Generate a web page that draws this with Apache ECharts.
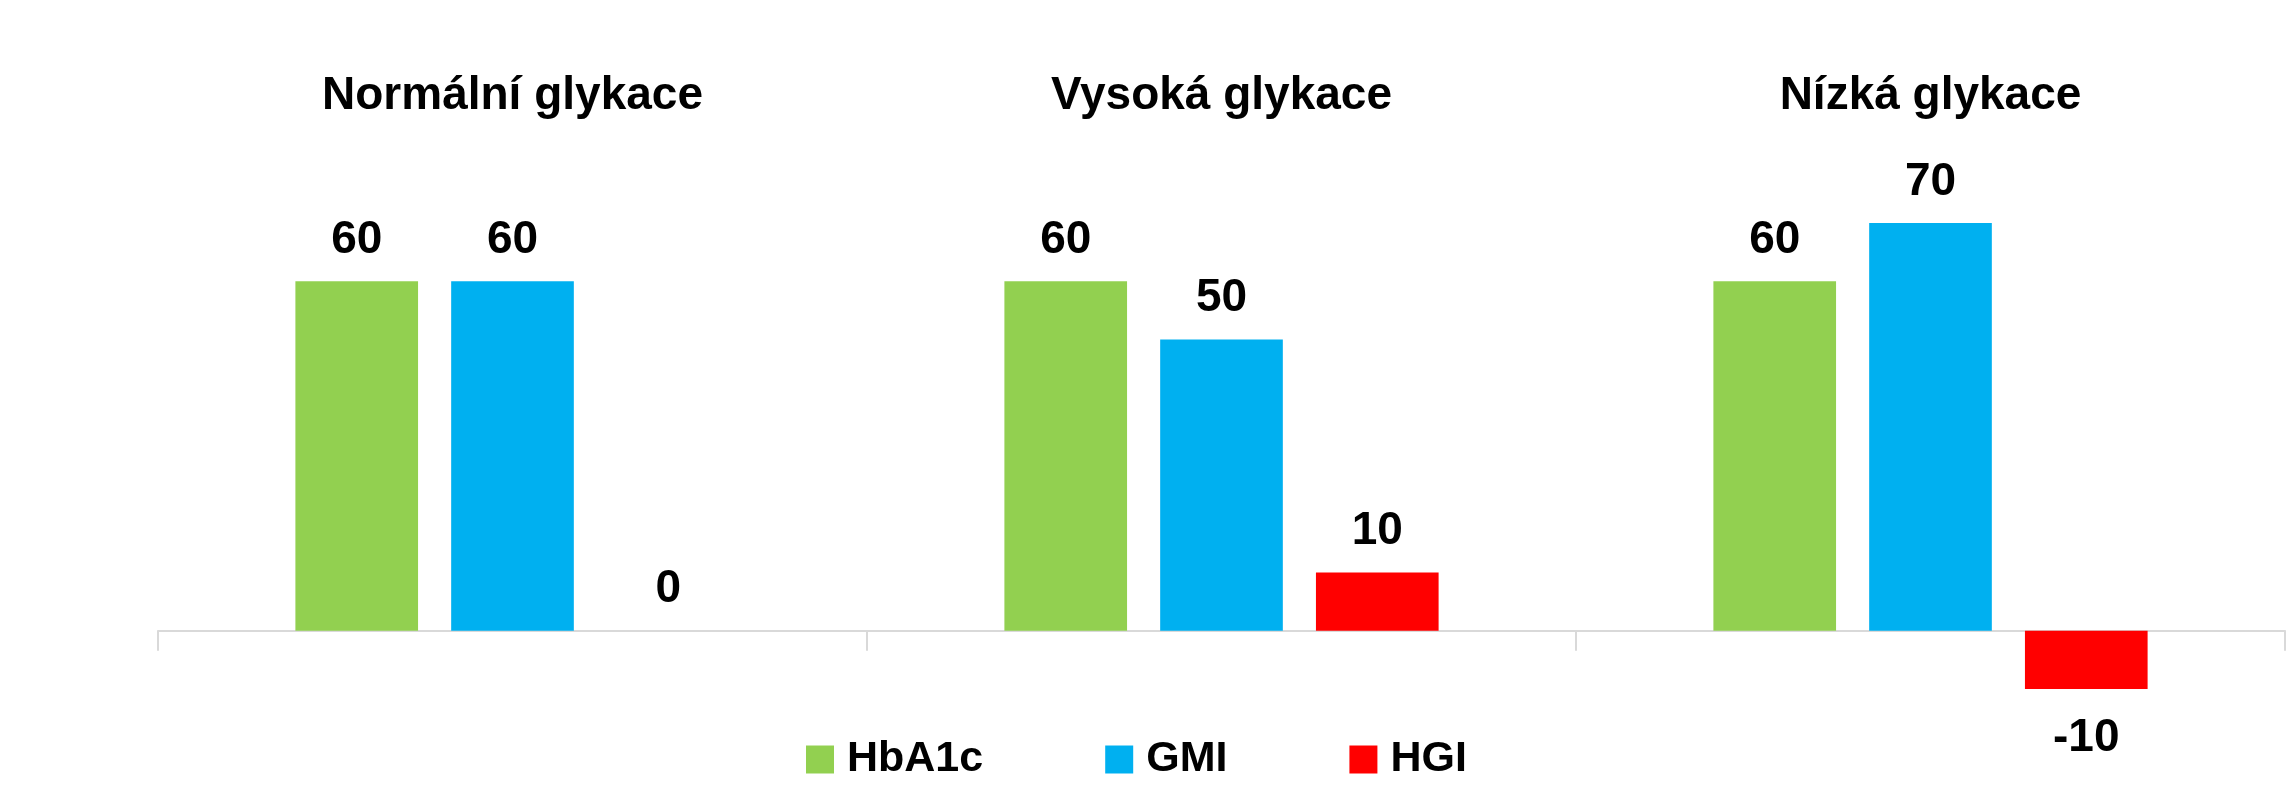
<!DOCTYPE html>
<html>
<head>
<meta charset="utf-8">
<script src="https://cdn.jsdelivr.net/npm/echarts@6/dist/echarts.min.js"></script>
<style>
  html, body { margin: 0; padding: 0; background: #fff; }
  #chart { width: 2289px; height: 800px; }
</style>
</head>
<body>
<div id="chart"></div>
<script>
var categories = ['Normální glykace', 'Vysoká glykace', 'Nízká glykace'];
var seriesNames = ['HbA1c', 'GMI', 'HGI'];
var hba1c = [60, 60, 60];
var gmi = [60, 50, 70];
var hgi = [0, 10, -10];
var colors = ['#92D050', '#00B0F0', '#FF0000'];

var font = "'Liberation Sans Narrow', 'Liberation Sans', Arial, sans-serif";

// negative values get their label under the bar
function withLabels(values) {
  return values.map(function (v) {
    if (v < 0) return { value: v, label: { position: 'bottom', distance: 26 } };
    return v;
  });
}

var chart = echarts.init(document.getElementById('chart'));

var labelStyle = {
  show: true,
  position: 'top',
  distance: 18,
  color: '#000',
  fontSize: 46,
  fontWeight: 'bold',
  fontFamily: font
};

var allData = [hba1c, gmi, hgi];
var series = [];
for (var i = 0; i < seriesNames.length; i++) {
  series.push({
    name: seriesNames[i],
    type: 'bar',
    barWidth: '17.3%',
    barGap: '27%',
    itemStyle: { color: colors[i] },
    label: labelStyle,
    data: withLabels(allData[i])
  });
}

var option = {
  animation: false,
  color: colors,
  grid: { left: 158, right: 4, top: 223, bottom: 111 },
  legend: {
    bottom: 14,
    left: 801,
    itemWidth: 28,
    itemHeight: 28,
    itemGap: 122,
    icon: 'rect',
    textStyle: { color: '#000', fontSize: 43, fontWeight: 'bold', fontFamily: font, padding: [0, 0, 0, 8] },
    data: seriesNames
  },
  xAxis: [
    {
      type: 'category',
      data: categories,
      axisLine: { show: true, onZero: true, lineStyle: { color: '#D9D9D9', width: 2 } },
      axisTick: { show: true, length: 20, lineStyle: { color: '#D9D9D9', width: 2 } },
      axisLabel: { show: false }
    },
    {
      type: 'category',
      position: 'top',
      data: categories,
      axisLine: { show: false },
      axisTick: { show: false },
      axisLabel: {
        show: true,
        margin: 104,
        color: '#000',
        fontSize: 46,
        fontWeight: 'bold',
        fontFamily: font
      }
    }
  ],
  yAxis: {
    type: 'value',
    min: -10,
    max: 70,
    show: false,
    splitLine: { show: false }
  },
  series: series
};

chart.setOption(option);
</script>
</body>
</html>
